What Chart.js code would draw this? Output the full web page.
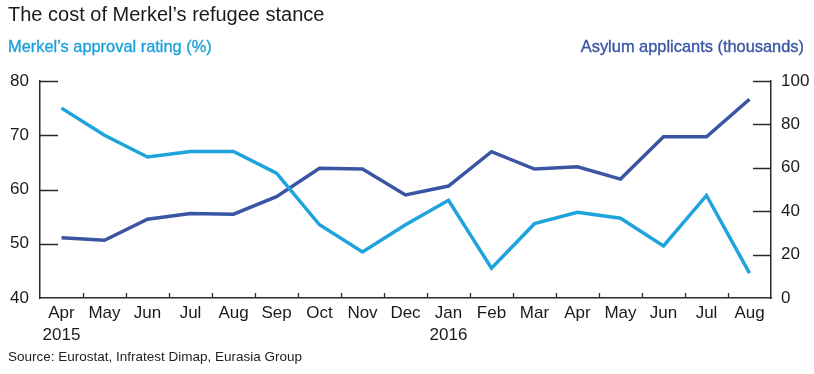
<!DOCTYPE html>
<html>
<head>
<meta charset="utf-8">
<script src="https://cdn.jsdelivr.net/npm/chart.js@4"></script>
<style>
  html, body { margin: 0; padding: 0; background: #fff; }
  #wrap { position: relative; width: 814px; height: 374px; font-family: "Liberation Sans", Arial, sans-serif; }
  #grafico { position: absolute; left: 0; top: 0; }
  .txt { position: absolute; white-space: nowrap; line-height: 1; }
  #titulo { left: 8px; top: 4px; font-size: 20px; color: #1a1a1a; }
  #subEsq { left: 8px; top: 38px; font-size: 16.4px; color: #1ea1da; -webkit-text-stroke: 0.35px #1ea1da; }
  #subDir { right: 10px; top: 38px; font-size: 16.4px; color: #3a55a4; -webkit-text-stroke: 0.35px #3a55a4; }
  #fonte { left: 8px; top: 350px; font-size: 13.5px; color: #222; }
</style>
</head>
<body>
<div id="wrap">
  <canvas id="grafico" width="814" height="374"></canvas>
  <div class="txt" id="titulo">The cost of Merkel’s refugee stance</div>
  <div class="txt" id="subEsq">Merkel’s approval rating (%)</div>
  <div class="txt" id="subDir">Asylum applicants (thousands)</div>
  <div class="txt" id="fonte">Source: Eurostat, Infratest Dimap, Eurasia Group</div>
</div>
<script>
// =============================
// DADOS
// =============================
const meses = ["Apr", "May", "Jun", "Jul", "Aug", "Sep", "Oct", "Nov", "Dec",
               "Jan", "Feb", "Mar", "Apr", "May", "Jun", "Jul", "Aug"];
const anos = ["2015", "", "", "", "", "", "", "", "", "2016", "", "", "", "", "", "", ""];

// aprovação da Merkel (%) - eixo esquerdo
const aprovacao = [75, 70, 66, 67, 67, 63, 53.5, 48.5, 53.5, 58, 45.5, 53.7, 55.8, 54.7, 49.6, 58.9, 44.6];

// pedidos de asilo (milhares) - eixo direito
const asilo = [27.8, 26.6, 36.3, 38.9, 38.6, 46.7, 59.8, 59.4, 47.5, 51.6, 67.4, 59.4, 60.5, 54.8, 74.3, 74.3, 91.6];

const ticksEsq = [40, 50, 60, 70, 80];
const ticksDir = [0, 20, 40, 60, 80, 100];

// =============================
// CORES / FONTE
// =============================
const azulClaro = "#1ea3dc";
const azulEscuro = "#3a55a4";
const corEixo = "#2a2a2a";
const fonteEixo = { family: "'Liberation Sans', Arial, sans-serif", size: 17 };

// =============================
// TRACINHOS PARA DENTRO (como no original)
// =============================
const tracinhos = {
  id: "tracinhos",
  afterDraw(chart) {
    const ctx = chart.ctx;
    const yE = chart.scales.yEsq;
    const yD = chart.scales.yDir;
    const area = chart.chartArea;

    ctx.save();
    ctx.strokeStyle = corEixo;
    ctx.lineWidth = 1.3;
    ctx.beginPath();

    ticksEsq.forEach(v => {
      if (v === yE.min) return;
      const y = Math.round(yE.getPixelForValue(v)) + 0.5;
      ctx.moveTo(area.left, y);
      ctx.lineTo(area.left + 18, y);
    });

    ticksDir.forEach(v => {
      if (v === yD.min) return;
      const y = Math.round(yD.getPixelForValue(v)) + 0.5;
      ctx.moveTo(area.right, y);
      ctx.lineTo(area.right - 18, y);
    });

    const passo = (area.right - area.left) / meses.length;
    for (let i = 1; i < meses.length; i++) {
      const px = Math.round(area.left + i * passo) + 0.5;
      ctx.moveTo(px, area.bottom);
      ctx.lineTo(px, area.bottom - 5);
    }

    ctx.stroke();
    ctx.restore();
  }
};

// =============================
// GRÁFICO
// =============================
new Chart(document.getElementById("grafico").getContext("2d"), {
  type: "line",
  data: {
    labels: meses.map((m, i) => [m, anos[i]]),
    datasets: [
      {
        label: "Merkel's approval rating (%)",
        data: aprovacao,
        yAxisID: "yEsq",
        borderColor: azulClaro,
        borderWidth: 3.5,
        pointRadius: 0,
        tension: 0,
        borderJoinStyle: "miter"
      },
      {
        label: "Asylum applicants (thousands)",
        data: asilo,
        yAxisID: "yDir",
        borderColor: azulEscuro,
        borderWidth: 3.5,
        pointRadius: 0,
        tension: 0,
        borderJoinStyle: "miter"
      }
    ]
  },
  options: {
    responsive: false,
    animation: false,
    events: [],
    layout: { padding: { top: 81, left: 0, right: 0, bottom: 0 } },
    plugins: {
      legend: { display: false },
      tooltip: { enabled: false }
    },
    scales: {
      x: {
        offset: true,
        grid: { display: false, drawTicks: false },
        border: { display: true, color: corEixo, width: 1.5 },
        ticks: {
          color: "#1a1a1a",
          font: { ...fonteEixo, lineHeight: 1.25 },
          padding: 5,
          maxRotation: 0,
          autoSkip: false
        },
        afterFit: s => { s.height = 76; }
      },
      yEsq: {
        position: "left",
        min: 40,
        max: 80,
        afterBuildTicks: s => { s.ticks = ticksEsq.map(v => ({ value: v })); },
        grid: { display: false, drawTicks: false },
        border: { display: true, color: corEixo, width: 1.5 },
        ticks: { color: "#1a1a1a", font: fonteEixo, padding: 11 },
        afterFit: s => { s.width = 40; }
      },
      yDir: {
        position: "right",
        min: 0,
        max: 100,
        afterBuildTicks: s => { s.ticks = ticksDir.map(v => ({ value: v })); },
        grid: { display: false, drawTicks: false },
        border: { display: true, color: corEixo, width: 1.5 },
        ticks: { color: "#1a1a1a", font: fonteEixo, padding: 10 },
        afterFit: s => { s.width = 43; }
      }
    }
  },
  plugins: [tracinhos]
});
</script>
</body>
</html>
